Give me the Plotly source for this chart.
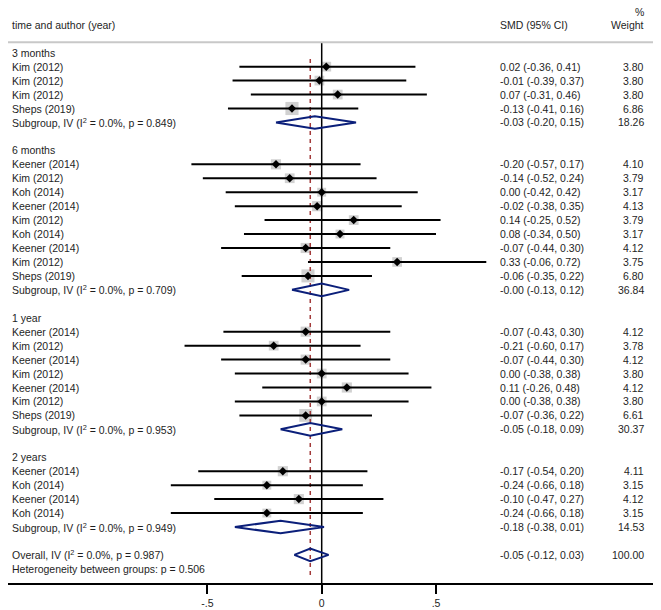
import plotly.graph_objects as go
import numpy as np

# ---- data -------------------------------------------------------------
groups = ["3 months", "6 months", "1 year", "2 years"]

studies = [
    ["Kim (2012)", "Kim (2012)", "Kim (2012)", "Sheps (2019)"],
    ["Keener (2014)", "Kim (2012)", "Koh (2014)", "Keener (2014)", "Kim (2012)",
     "Koh (2014)", "Keener (2014)", "Kim (2012)", "Sheps (2019)"],
    ["Keener (2014)", "Kim (2012)", "Keener (2014)", "Kim (2012)",
     "Keener (2014)", "Kim (2012)", "Sheps (2019)"],
    ["Keener (2014)", "Koh (2014)", "Keener (2014)", "Koh (2014)"],
]
smd = [
    [0.02, -0.01, 0.07, -0.13],
    [-0.20, -0.14, 0.00, -0.02, 0.14, 0.08, -0.07, 0.33, -0.06],
    [-0.07, -0.21, -0.07, 0.00, 0.11, 0.00, -0.07],
    [-0.17, -0.24, -0.10, -0.24],
]
ci_low = [
    [-0.36, -0.39, -0.31, -0.41],
    [-0.57, -0.52, -0.42, -0.38, -0.25, -0.34, -0.44, -0.06, -0.35],
    [-0.43, -0.60, -0.44, -0.38, -0.26, -0.38, -0.36],
    [-0.54, -0.66, -0.47, -0.66],
]
ci_high = [
    [0.41, 0.37, 0.46, 0.16],
    [0.17, 0.24, 0.42, 0.35, 0.52, 0.50, 0.30, 0.72, 0.22],
    [0.30, 0.17, 0.30, 0.38, 0.48, 0.38, 0.22],
    [0.20, 0.18, 0.27, 0.18],
]
weight = [
    [3.80, 3.80, 3.80, 6.86],
    [4.10, 3.79, 3.17, 4.13, 3.79, 3.17, 4.12, 3.75, 6.80],
    [4.12, 3.78, 4.12, 3.80, 4.12, 3.80, 6.61],
    [4.11, 3.15, 4.12, 3.15],
]

sub_smd = [-0.03, -0.0, -0.05, -0.18]
sub_low = [-0.20, -0.13, -0.18, -0.38]
sub_high = [0.15, 0.12, 0.09, 0.01]
sub_weight = [18.26, 36.84, 30.37, 14.53]
sub_p = [0.849, 0.709, 0.953, 0.949]

overall = [-0.05, -0.12, 0.03]
overall_weight = 100.00
overall_p = 0.987
between_p = 0.506

tick_vals = [-0.5, 0, 0.5]
tick_text = ["-.5", "0", ".5"]

# ---- geometry ----------------------------------------------------------
# the page body has an 8px margin, so the figure sits 8px in from the window
OFF = 8
W, H = 661 - OFF, 610 - OFF
ML, MR, MB = 0, 4, 27
X0, XS = 321.7 - OFF, 228.6     # figure pixel of x=0, pixels per unit
Y0, YS = 52.7 - OFF, 13.95      # figure pixel of row 0, pixels per row


def px_x(p):
    # p: pixel in the reference window
    return (p - OFF - X0) / XS


def px_y(p):
    return (p - OFF - Y0) / YS


FONT = "Liberation Sans, Arial, sans-serif"
FS = 10.5
TXT = "#1e1e1e"
NAVY = "#0b1f7a"
RED = "#a33a3a"

fmt = lambda e, l, h: f"{e:.2f} ({l:.2f}, {h:.2f})"

labels = []   # (row, left label, smd text, weight text)
st_row, st_smd, st_lo, st_hi, st_w = [], [], [], [], []
dia = []      # (row, est, lo, hi)

row = 0
for g in range(len(groups)):
    labels.append((row, groups[g], "", ""))
    row += 1
    for i in range(len(studies[g])):
        labels.append((row, studies[g][i],
                       fmt(smd[g][i], ci_low[g][i], ci_high[g][i]),
                       f"{weight[g][i]:.2f}"))
        st_row.append(row)
        st_smd.append(smd[g][i])
        st_lo.append(ci_low[g][i])
        st_hi.append(ci_high[g][i])
        st_w.append(weight[g][i])
        row += 1
    labels.append((row, f"Subgroup, IV (I<sup>2</sup> = 0.0%, p = {sub_p[g]:.3f})",
                   fmt(sub_smd[g], sub_low[g], sub_high[g]),
                   f"{sub_weight[g]:.2f}"))
    dia.append((row, sub_smd[g], sub_low[g], sub_high[g]))
    row += 2
labels.append((row, f"Overall, IV (I<sup>2</sup> = 0.0%, p = {overall_p:.3f})",
               fmt(*overall), f"{overall_weight:.2f}"))
dia.append((row, *overall))
labels.append((row + 1, f"Heterogeneity between groups: p = {between_p:.3f}", "", ""))

fig = go.Figure()

# weight boxes
fig.add_trace(go.Scatter(
    x=st_smd, y=st_row, mode="markers",
    marker=dict(symbol="square", size=[5.0 * np.sqrt(w) for w in st_w],
                color="#bdbdbd", line=dict(width=0)),
    hoverinfo="skip", showlegend=False))

# overall effect dashed line
fig.add_trace(go.Scatter(
    x=[overall[0], overall[0]], y=[px_y(59), px_y(577)], mode="lines",
    line=dict(color=RED, width=1.5, dash="4px,4px"),
    hoverinfo="skip", showlegend=False))

# null line
fig.add_trace(go.Scatter(
    x=[0, 0], y=[px_y(42), px_y(583)], mode="lines",
    line=dict(color="black", width=1.5),
    hoverinfo="skip", showlegend=False))

# CI lines
cx, cy = [], []
for r, lo, hi in zip(st_row, st_lo, st_hi):
    cx += [lo, hi, None]
    cy += [r, r, None]
fig.add_trace(go.Scatter(
    x=cx, y=cy, mode="lines", line=dict(color="black", width=2),
    hoverinfo="skip", showlegend=False))

# point estimates
fig.add_trace(go.Scatter(
    x=st_smd, y=st_row, mode="markers",
    marker=dict(symbol="diamond", size=6.5, color="black"),
    hoverinfo="skip", showlegend=False))

# pooled diamonds
h = 0.45
dx, dy = [], []
for r, e, lo, hi in dia:
    dx += [lo, e, hi, e, lo, None]
    dy += [r, r - h, r, r + h, r, None]
fig.add_trace(go.Scatter(
    x=dx, y=dy, mode="lines", line=dict(color=NAVY, width=2),
    hoverinfo="skip", showlegend=False))

# header separator
fig.add_shape(type="line", xref="x", yref="y",
              x0=px_x(8), x1=px_x(656), y0=px_y(42.3), y1=px_y(42.3),
              line=dict(color="#c8c8c8", width=2))

# texts
x_lab, x_smd, x_w = px_x(10), px_x(497.5), px_x(645.5)
ann = []


def add_text(x, y, t, anchor):
    ann.append(dict(x=x, y=y, xref="x", yref="y", text=t, showarrow=False,
                    xanchor=anchor, yanchor="middle",
                    font=dict(family=FONT, size=FS, color=TXT)))


add_text(x_lab, px_y(25), "time and author (year)", "left")
add_text(x_smd, px_y(25), "SMD (95% CI)", "left")
add_text(x_w, px_y(25), "Weight", "right")
add_text(x_w, px_y(12), "%", "right")
for r, lab, s, w in labels:
    add_text(x_lab, r, lab, "left")
    if s:
        add_text(x_smd, r, s, "left")
        add_text(x_w, r, w, "right")

fig.update_layout(
    width=W, height=H,
    margin=dict(l=ML, r=MR, t=0, b=MB),
    plot_bgcolor="white", paper_bgcolor="white",
    annotations=ann,
    font=dict(family=FONT, size=FS, color=TXT),
)
fig.update_xaxes(range=[px_x(OFF + ML), px_x(OFF + W - MR)],
                 tickvals=tick_vals, ticktext=tick_text,
                 ticks="outside", ticklen=9, tickwidth=2, tickcolor="black",
                 showline=True, linewidth=2, linecolor="black",
                 showgrid=False, zeroline=False,
                 tickfont=dict(family=FONT, size=FS, color=TXT))
fig.update_yaxes(range=[px_y(OFF + H - MB), px_y(OFF)], visible=False,
                 showgrid=False, zeroline=False)

fig.write_html("out.html")
